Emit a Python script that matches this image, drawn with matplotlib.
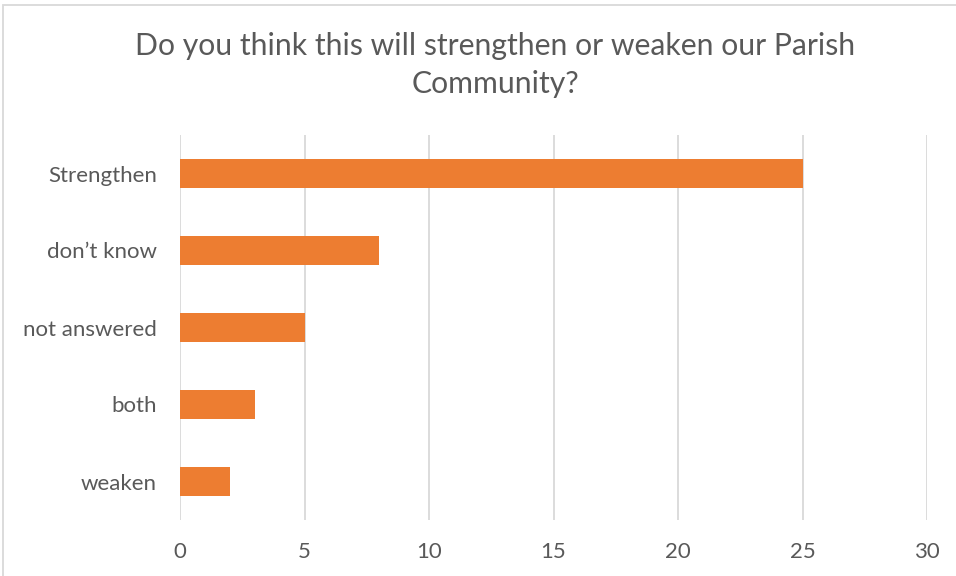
import matplotlib
matplotlib.use("Agg")
import matplotlib.pyplot as plt
from matplotlib.patches import Rectangle

categories = ["Strengthen", "don\u2019t know", "not answered", "both", "weaken"]
values = [25, 8, 5, 3, 2]
xticks = [0, 5, 10, 15, 20, 25, 30]
title = "Do you think this will strengthen or weaken our Parish\nCommunity?"

plt.rcParams['font.family'] = ['Lato', 'DejaVu Sans']
W, H = 956, 576
fig = plt.figure(figsize=(W/100, H/100), dpi=100)
ax = fig.add_axes([180/W, (H-520)/H, (927-180)/W, (520-135)/H])

ypos = list(range(len(categories)))
ax.barh(ypos, values, height=0.37, color="#ED7D31", zorder=3)
ax.set_ylim(len(categories)-0.5, -0.5)
ax.set_yticks(ypos)
ax.set_yticklabels(categories)
ax.set_xlim(0, 30)
ax.set_xticks(xticks)
ax.grid(axis="x", color="#D9D9D9", linewidth=1.3, zorder=0)
for s in ax.spines.values():
    s.set_visible(False)
ax.tick_params(axis="both", length=0, colors="#595959", labelsize=16)
ax.tick_params(axis="y", pad=16.5)
ax.tick_params(axis="x", pad=16)

fig.text(495/W, 1-65/H, title, ha="center", va="center", fontsize=21.7, color="#595959", linespacing=1.45)

fig.patches.append(Rectangle((3/W, -0.1), 1.1, 1 - 5/H + 0.1, transform=fig.transFigure,
                             fill=False, edgecolor="#D9D9D9", linewidth=1.3))

fig.savefig("out.png", dpi=100)
